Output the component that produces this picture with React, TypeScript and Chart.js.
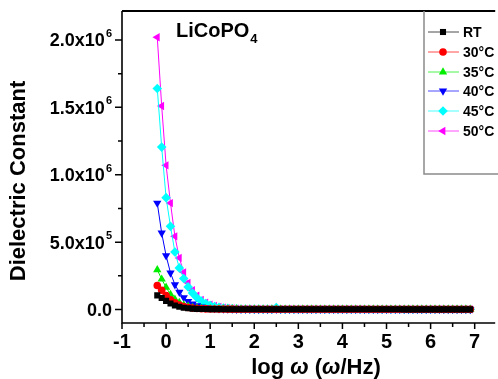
import React, { useEffect, useRef } from 'react';
import { Chart, registerables } from 'chart.js';
Chart.register(...registerables);

const FONT = '"Liberation Sans", Arial, Helvetica, sans-serif';

const logFreq = [
  -0.2, -0.1, 0.0, 0.1, 0.2, 0.3, 0.4, 0.5, 0.6, 0.7,
  0.8, 0.9, 1.0, 1.1, 1.2, 1.3, 1.4, 1.5, 1.6, 1.7,
  1.8, 1.9, 2.0, 2.1, 2.2, 2.3, 2.4, 2.5, 2.6, 2.7,
  2.8, 2.9, 3.0, 3.1, 3.2, 3.3, 3.4, 3.5, 3.6, 3.7,
  3.8, 3.9, 4.0, 4.1, 4.2, 4.3, 4.4, 4.5, 4.6, 4.7,
  4.8, 4.9, 5.0, 5.1, 5.2, 5.3, 5.4, 5.5, 5.6, 5.7,
  5.8, 5.9, 6.0, 6.1, 6.2, 6.3, 6.4, 6.5, 6.6, 6.7,
  6.8, 6.9,
];

const epsRT = [
  105000, 85000, 64000, 45000, 30000, 20000, 13000, 9000, 6500, 5000,
  4200, 3600, 3200, 2900, 2700, 2500, 2400, 2300, 2200, 2100,
  2050, 2000, 1950, 1900, 1850, 1800, 1780, 1760, 1740, 1720,
  1700, 1680, 1660, 1640, 1620, 1600, 1590, 1580, 1570, 1560,
  1550, 1540, 1530, 1520, 1510, 1500, 1490, 1480, 1470, 1460,
  1450, 1440, 1430, 1420, 1410, 1400, 1390, 1380, 1370, 1360,
  1350, 1340, 1330, 1320, 1310, 1300, 1290, 1280, 1270, 1260,
  1250, 1240,
];

const eps30 = [
  178000, 143000, 104000, 72000, 49000, 33000, 22000, 15000, 10500, 7500,
  5800, 4800, 4100, 3600, 3300, 3000, 2800, 2650, 2500, 2400,
  2320, 2250, 2190, 2140, 2090, 2050, 2010, 1980, 1950, 1920,
  1890, 1860, 1840, 1820, 1800, 1780, 1760, 1740, 1720, 1700,
  1690, 1680, 1670, 1660, 1650, 1640, 1630, 1620, 1610, 1600,
  1590, 1580, 1570, 1560, 1550, 1540, 1530, 1520, 1510, 1500,
  1490, 1480, 1470, 1460, 1450, 1440, 1430, 1420, 1410, 1400,
  1390, 1380,
];

const eps35 = [
  295000, 225000, 165000, 112000, 76000, 51000, 34000, 23000, 15500, 10800,
  7800, 6000, 4900, 4200, 3700, 3300, 3000, 2800, 2650, 2500,
  2400, 2320, 2250, 2190, 2140, 2090, 2050, 2010, 1980, 1950,
  1920, 1890, 1860, 1840, 1820, 1800, 1780, 1760, 1740, 1720,
  1700, 1690, 1680, 1670, 1660, 1650, 1640, 1630, 1620, 1610,
  1600, 1590, 1580, 1570, 1560, 1550, 1540, 1530, 1520, 1510,
  1500, 1490, 1480, 1470, 1460, 1450, 1440, 1430, 1420, 1410,
  1400, 1390,
];

const eps40 = [
  790000, 568000, 400000, 272000, 185000, 128000, 89000, 61000, 42000, 29000,
  20000, 14000, 10000, 7500, 5800, 4700, 4000, 3500, 3200, 3000,
  2850, 2700, 2600, 2500, 2420, 2350, 2290, 2240, 2190, 2150,
  2110, 2070, 2040, 2010, 1980, 1950, 1920, 1900, 1880, 1860,
  1840, 1820, 1800, 1780, 1760, 1740, 1720, 1700, 1690, 1680,
  1670, 1660, 1650, 1640, 1630, 1620, 1610, 1600, 1590, 1580,
  1570, 1560, 1550, 1540, 1530, 1520, 1510, 1500, 1490, 1480,
  1470, 1460,
];

const eps45 = [
  1640000, 1205000, 830000, 617000, 427000, 309000, 230000, 168000, 122000, 87000,
  62000, 44000, 31000, 22000, 16000, 11500, 8500, 6500, 5200, 4400,
  3900, 3500, 3200, 3000, 2850, 2700, 2600, 15000, 2450, 2400,
  2350, 2300, 2260, 2220, 2180, 2140, 2100, 2070, 2040, 2010,
  1980, 1950, 1920, 1900, 1880, 1860, 1840, 1820, 1800, 1780,
  1760, 1740, 1720, 1700, 1690, 1680, 1670, 1660, 1650, 1640,
  1630, 1620, 1610, 1600, 1590, 1580, 1570, 1560, 1550, 1540,
  1530, 1520,
];

const eps50 = [
  2020000, 1510000, 1070000, 790000, 543000, 383000, 276000, 198000, 143000, 102000,
  72000, 51000, 36000, 26000, 18500, 13500, 10000, 7600, 6000, 5000,
  4300, 3800, 3400, 3100, 2900, 2750, 2600, 2500, 2420, 2350,
  2290, 2240, 2190, 2150, 2110, 2070, 2040, 2010, 1980, 1950,
  1920, 1900, 1880, 1860, 1840, 1820, 1800, 1780, 1760, 1740,
  1720, 1700, 1690, 1680, 1670, 1660, 1650, 1640, 1630, 1620,
  1610, 1600, 1590, 1580, 1570, 1560, 1550, 1540, 1530, 1520,
  1510, 1500,
];

const seriesLabels = ['RT', '30°C', '35°C', '40°C', '45°C', '50°C'];
const seriesValues = [epsRT, eps30, eps35, eps40, eps45, eps50];
const seriesColors = ['#000000', '#ff0000', '#00ee00', '#0000ff', '#00ffff', '#ff00ff'];
const seriesMarkers = ['rect', 'circle', 'triangle', 'triangle', 'rectRot', 'triangle'];
const seriesRotation = [0, 0, 0, 180, 0, 270];
const seriesRadius = [4.3, 3.8, 4.8, 4.8, 4.8, 4.8];

const xMajorTicks = [-1, 0, 1, 2, 3, 4, 5, 6, 7];
const xMinorTicks = [-0.5, 0.5, 1.5, 2.5, 3.5, 4.5, 5.5, 6.5];
const yMajorTicks = [0, 500000, 1000000, 1500000, 2000000];
const yMinorTicks = [250000, 750000, 1250000, 1750000];
const yTickBase = ['0.0', '5.0x10', '1.0x10', '1.5x10', '2.0x10'];
const yTickExp = ['', '5', '6', '6', '6'];

function drawMarker(ctx: CanvasRenderingContext2D, style: string, rot: number, x: number, y: number, r: number, color: string) {
  ctx.save();
  ctx.fillStyle = color;
  ctx.beginPath();
  if (style === 'circle') {
    ctx.arc(x, y, r, 0, Math.PI * 2);
  } else if (style === 'rect') {
    const s = Math.SQRT1_2 * r;
    ctx.rect(x - s, y - s, 2 * s, 2 * s);
  } else if (style === 'rectRot') {
    ctx.moveTo(x, y - r);
    ctx.lineTo(x + r, y);
    ctx.lineTo(x, y + r);
    ctx.lineTo(x - r, y);
    ctx.closePath();
  } else {
    const rad = (rot * Math.PI) / 180;
    for (let k = 0; k < 3; k++) {
      const a = rad + (k * 2 * Math.PI) / 3;
      const px = x + Math.sin(a) * r;
      const py = y - Math.cos(a) * r;
      if (k === 0) ctx.moveTo(px, py);
      else ctx.lineTo(px, py);
    }
    ctx.closePath();
  }
  ctx.fill();
  ctx.restore();
}

const overlayPlugin = {
  id: 'overlay',
  afterDraw(chart: any) {
    const { ctx, chartArea: a, scales } = chart;
    const xs = scales.x;
    const ys = scales.y;
    ctx.save();
    ctx.strokeStyle = '#000';
    ctx.fillStyle = '#000';

    // axes
    ctx.lineWidth = 1.6;
    ctx.beginPath();
    ctx.moveTo(a.left, a.top);
    ctx.lineTo(a.left, a.bottom);
    ctx.lineTo(a.right + 2, a.bottom);
    ctx.stroke();
    // top frame
    ctx.lineWidth = 2;
    ctx.beginPath();
    ctx.moveTo(a.left, a.top);
    ctx.lineTo(a.right + 2, a.top);
    ctx.stroke();

    // x ticks
    ctx.lineWidth = 1.5;
    ctx.beginPath();
    xMajorTicks.forEach((v) => {
      const px = xs.getPixelForValue(v);
      ctx.moveTo(px, a.bottom);
      ctx.lineTo(px, a.bottom + 6);
    });
    xMinorTicks.forEach((v) => {
      const px = xs.getPixelForValue(v);
      ctx.moveTo(px, a.bottom);
      ctx.lineTo(px, a.bottom + 4);
    });
    // y ticks
    yMajorTicks.forEach((v) => {
      const py = ys.getPixelForValue(v);
      ctx.moveTo(a.left, py);
      ctx.lineTo(a.left - 7, py);
    });
    yMinorTicks.forEach((v) => {
      const py = ys.getPixelForValue(v);
      ctx.moveTo(a.left, py);
      ctx.lineTo(a.left - 4, py);
    });
    ctx.stroke();

    // x tick labels
    ctx.font = `bold 20px ${FONT}`;
    ctx.textAlign = 'center';
    ctx.textBaseline = 'middle';
    xMajorTicks.forEach((v) => {
      const px = xs.getPixelForValue(v);
      ctx.fillText(String(v), px, a.bottom + 19);
    });

    // y tick labels
    ctx.textBaseline = 'alphabetic';
    ctx.textAlign = 'left';
    const rightEdge = a.left - 10;
    yMajorTicks.forEach((v, i) => {
      const py = ys.getPixelForValue(v);
      ctx.font = `bold 18px ${FONT}`;
      const wb = ctx.measureText(yTickBase[i]).width;
      ctx.font = `bold 11px ${FONT}`;
      const we = yTickExp[i] ? ctx.measureText(yTickExp[i]).width + 1 : 0;
      const x0 = rightEdge - we - wb;
      ctx.font = `bold 18px ${FONT}`;
      ctx.fillText(yTickBase[i], x0, py + 6.5);
      if (yTickExp[i]) {
        ctx.font = `bold 11px ${FONT}`;
        ctx.fillText(yTickExp[i], x0 + wb + 1, py - 3);
      }
    });

    // y axis title
    ctx.save();
    ctx.translate(19, 181);
    ctx.rotate(-Math.PI / 2);
    ctx.font = `bold 22px ${FONT}`;
    ctx.textAlign = 'center';
    ctx.textBaseline = 'middle';
    ctx.fillText('Dielectric Constant', 0, 0);
    ctx.restore();

    // x axis title: log ω (ω/Hz)
    const parts = [
      { t: 'log ', f: `bold 22px ${FONT}` },
      { t: 'ω', f: `italic bold 22px ${FONT}` },
      { t: ' (', f: `bold 22px ${FONT}` },
      { t: 'ω', f: `italic bold 22px ${FONT}` },
      { t: '/Hz)', f: `bold 22px ${FONT}` },
    ];
    let total = 0;
    parts.forEach((p) => {
      ctx.font = p.f;
      total += ctx.measureText(p.t).width;
    });
    let cx = 316 - total / 2;
    ctx.textAlign = 'left';
    ctx.textBaseline = 'middle';
    parts.forEach((p) => {
      ctx.font = p.f;
      ctx.fillText(p.t, cx, 368);
      cx += ctx.measureText(p.t).width;
    });

    // compound label LiCoPO4
    ctx.textBaseline = 'alphabetic';
    ctx.font = `bold 20px ${FONT}`;
    ctx.fillText('LiCoPO', 176, 37);
    const wt = ctx.measureText('LiCoPO').width;
    ctx.font = `bold 13px ${FONT}`;
    ctx.fillText('4', 176 + wt + 1, 43);

    // legend box
    ctx.strokeStyle = '#8a8a8a';
    ctx.lineWidth = 1.5;
    ctx.beginPath();
    ctx.moveTo(424, a.top);
    ctx.lineTo(424, 174);
    ctx.lineTo(500, 174);
    ctx.stroke();

    const legendY = [32, 52, 72, 91, 111, 131];
    seriesLabels.forEach((lab, i) => {
      const y = legendY[i];
      ctx.strokeStyle = seriesColors[i];
      ctx.globalAlpha = 0.7;
      ctx.lineWidth = 1;
      ctx.beginPath();
      ctx.moveTo(428, y);
      ctx.lineTo(459, y);
      ctx.stroke();
      ctx.globalAlpha = 1;
      drawMarker(ctx, seriesMarkers[i], seriesRotation[i], 443, y, seriesRadius[i], seriesColors[i]);
      ctx.fillStyle = '#000';
      ctx.font = `bold 14px ${FONT}`;
      ctx.textBaseline = 'middle';
      ctx.textAlign = 'left';
      ctx.fillText(lab, 463, y + 1);
    });

    ctx.restore();
  },
};

export default function App() {
  const canvasRef = useRef<HTMLCanvasElement | null>(null);

  useEffect(() => {
    document.body.style.margin = '0';
    const canvas = canvasRef.current;
    if (!canvas) return;
    const datasets = seriesLabels.map((lab, i) => ({
      label: lab,
      data: logFreq.map((x, j) => ({ x, y: seriesValues[i][j] })),
      borderColor: seriesColors[i],
      backgroundColor: seriesColors[i],
      borderWidth: 1,
      pointStyle: seriesMarkers[i] as any,
      rotation: seriesRotation[i],
      pointRadius: seriesRadius[i],
      pointBorderWidth: 0,
      pointBackgroundColor: seriesColors[i],
      showLine: true,
      tension: 0,
    }));
    const chart = new Chart(canvas, {
      type: 'scatter',
      data: { datasets },
      options: {
        animation: false,
        responsive: true,
        maintainAspectRatio: false,
        layout: { padding: { top: 11, right: 1, left: 0, bottom: 0 } },
        plugins: { legend: { display: false }, tooltip: { enabled: false }, title: { display: false } },
        scales: {
          x: {
            type: 'linear',
            min: -1,
            max: 7.42,
            grid: { display: false },
            border: { display: false },
            ticks: { display: false },
            afterFit: (scale: any) => {
              scale.height = 56;
            },
          },
          y: {
            type: 'linear',
            min: -100000,
            max: 2215000,
            grid: { display: false },
            border: { display: false },
            ticks: { display: false },
            afterFit: (scale: any) => {
              scale.width = 122;
            },
          },
        },
      },
      plugins: [overlayPlugin],
    });
    return () => chart.destroy();
  }, []);

  return (
    <div style={{ position: 'fixed', left: 0, top: 0, width: 498, height: 379, background: '#fff' }}>
      <canvas ref={canvasRef} />
    </div>
  );
}
